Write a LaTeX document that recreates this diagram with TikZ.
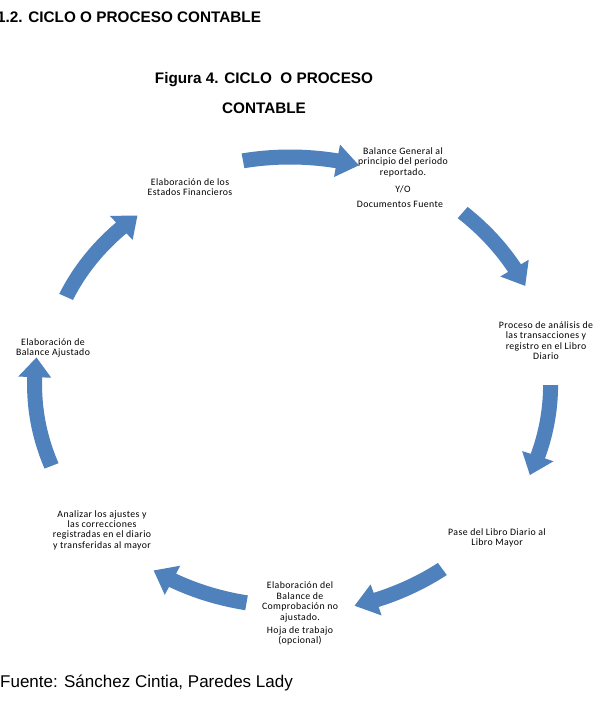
\documentclass[tikz,border=0pt]{standalone}
\usepackage{fontspec}
\setmainfont{Liberation Sans}
\newfontfamily\lblfont[LetterSpace=4]{Carlito}
\definecolor{arrowblue}{RGB}{79,129,189}
\newcommand\cyarrow[4]{% tail angle, head base angle, tip angle, scale
  \pgfmathsetmacro\RX{258*#4}\pgfmathsetmacro\RY{228*#4}
  \fill[arrowblue]
    plot[domain=0:1,samples=30,variable=\t]
      ({290+(\RX+7.5)*cos((#1)+((#2)-(#1))*\t)},{385-(\RY+7.5)*sin((#1)+((#2)-(#1))*\t)})
    -- ({290+(\RX+16.5)*cos(#2)},{385-(\RY+16.5)*sin(#2)})
    -- ({290+\RX*cos(#3)},{385-\RY*sin(#3)})
    -- ({290+(\RX-16.5)*cos(#2)},{385-(\RY-16.5)*sin(#2)})
    -- plot[domain=0:1,samples=30,variable=\t]
      ({290+(\RX-7.5)*cos((#2)+((#1)-(#2))*\t)},{385-(\RY-7.5)*sin((#2)+((#1)-(#2))*\t)})
    -- cycle;}
\tikzset{
  lbl/.style={font=\lblfont\fontsize{9.8}{10.4}\selectfont, align=center, inner sep=0pt, text=black},
  head/.style={font=\bfseries\fontsize{15.3}{18}\selectfont, inner sep=0pt, text=black},
}
\begin{document}
\begin{tikzpicture}[x=1pt,y=-1pt]
\useasboundingbox[fill=white] (0,0) rectangle (592,720);
% headings
\node[head, anchor=base west] (sec) at (-3,22) {1.2. CICLO O PROCESO CONTABLE};
\node[head, anchor=base] (fig1) at (264,83) {Figura 4. CICLO \ O PROCESO};
\node[head, anchor=base] (fig2) at (264,113) {CONTABLE};
\node[anchor=base west, inner sep=0pt, font=\fontsize{17}{20}\selectfont] (src) at (0,687) {Fuente: Sánchez Cintia, Paredes Lady};
% arrows of the cycle
\cyarrow{100.5}{79.5}{74.5}{1}
\cyarrow{48.5}{30.5}{25.5}{1.01}
\cyarrow{0}{-18}{-23}{1.01}
\cyarrow{-53.8}{-70.5}{-75.5}{1}
\cyarrow{-100}{-118}{-123}{0.97}
\cyarrow{-159}{-182}{-187}{0.99}
\cyarrow{156}{133.5}{128.5}{0.95}
% labels
\node[lbl] (bg) at (403,162) {Balance General al\\principio del periodo\\reportado.};
\node[lbl] (yo) at (403,189) {Y/O};
\node[lbl] (doc) at (400,204) {Documentos Fuente};
\node[lbl] (proc) at (546,340.5) {Proceso de análisis de\\las transacciones y\\registro en el Libro\\Diario};
\node[lbl] (pase) at (497,538) {Pase del Libro Diario al\\Libro Mayor};
\node[lbl] (comp) at (300,602) {Elaboración del\\Balance de\\Comprobación no\\ajustado.};
\node[lbl] (hoja) at (300,636) {Hoja de trabajo\\(opcional)};
\node[lbl] (anal) at (102,530) {Analizar los ajustes y\\las correcciones\\registradas en el diario\\y transferidas al mayor};
\node[lbl] (baj) at (53,348) {Elaboración de\\Balance Ajustado};
\node[lbl] (eef) at (190,187) {Elaboración de los\\Estados Financieros};
\end{tikzpicture}
\end{document}
